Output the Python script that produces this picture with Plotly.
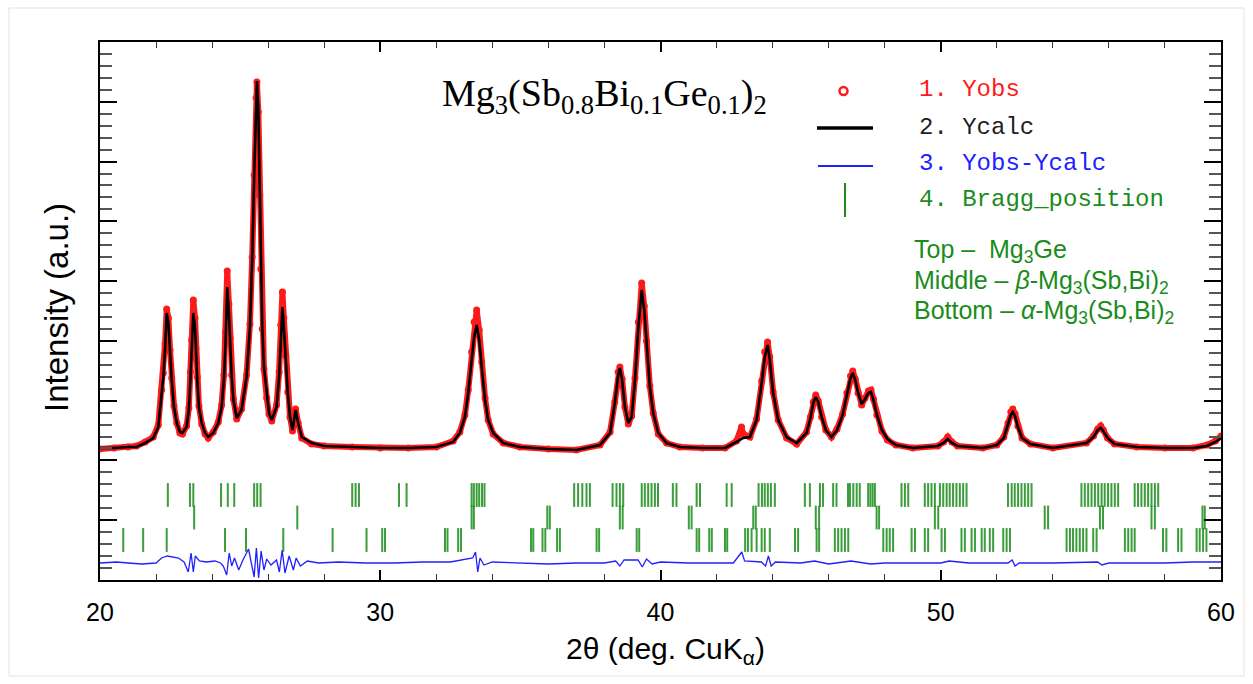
import plotly.graph_objects as go

# ---------------- data ----------------
# 2theta grid of the observed / calculated profile
two_theta = [20.0, 20.5, 21.0, 21.3, 21.61, 21.90, 22.08, 22.20, 22.26, 22.32,
             22.38, 22.44, 22.50, 22.56, 22.64, 22.74, 22.85, 22.94, 23.09, 23.17,
             23.23, 23.27, 23.33, 23.39, 23.42, 23.47, 23.53, 23.63, 23.75, 23.86,
             24.04, 24.22, 24.34, 24.42, 24.48, 24.54, 24.60, 24.64, 24.70, 24.76,
             24.88, 25.05, 25.23, 25.35, 25.43, 25.50, 25.57, 25.60, 25.65, 25.70,
             25.74, 25.79, 25.85, 25.95, 26.03, 26.13, 26.30, 26.39, 26.45, 26.51,
             26.56, 26.63, 26.70, 26.78, 26.87, 26.98, 27.07, 27.20, 27.55, 28.0,
             29.0, 30.0, 31.0, 32.0, 32.60, 32.84, 33.02, 33.14, 33.26, 33.35,
             33.44, 33.53, 33.62, 33.74, 33.85, 34.03, 34.39, 34.98, 36.0, 37.0,
             37.84, 38.20, 38.37, 38.49, 38.55, 38.63, 38.73, 38.85, 38.97, 39.09,
             39.21, 39.33, 39.42, 39.50, 39.62, 39.74, 39.92, 40.22, 40.69, 41.5,
             42.3, 42.71, 42.89, 42.95, 43.19, 43.43, 43.61, 43.72, 43.82, 43.90,
             44.02, 44.20, 44.50, 44.86, 45.21, 45.35, 45.45, 45.54, 45.63, 45.75,
             45.90, 46.10, 46.30, 46.50, 46.65, 46.78, 46.86, 46.95, 47.05, 47.18,
             47.30, 47.42, 47.51, 47.60, 47.72, 47.90, 48.10, 48.40, 49.0, 49.9,
             50.10, 50.25, 50.40, 50.60, 51.5, 52.00, 52.25, 52.40, 52.50, 52.57,
             52.65, 52.75, 52.90, 53.20, 54.0, 55.20, 55.45, 55.60, 55.71, 55.80,
             55.95, 56.20, 57.0, 58.0, 59.0, 59.5, 59.8, 60.0]

y_calc = [132, 132, 133, 133, 137, 142, 153, 187, 203, 230,
          267, 257, 227, 200, 173, 157, 148, 147, 153, 170,
          203, 230, 267, 253, 227, 200, 173, 157, 147, 143,
          147, 157, 173, 200, 237, 293, 267, 237, 203, 180,
          162, 170, 203, 253, 320, 403, 480, 499, 470, 387,
          313, 253, 213, 183, 167, 160, 173, 203, 243, 273,
          253, 220, 187, 163, 150, 170, 157, 143, 137, 134,
          133, 132, 132, 133, 138, 147, 163, 187, 220, 243,
          255, 240, 213, 180, 160, 147, 137, 133, 131, 130,
          135, 147, 177, 205, 212, 200, 173, 157, 163, 200,
          253, 290, 270, 237, 193, 167, 147, 137, 133, 132,
          132, 138, 141, 142, 143, 160, 197, 223, 235, 220,
          187, 160, 143, 137, 147, 162, 177, 183, 178, 163,
          150, 143, 150, 165, 185, 202, 207, 200, 187, 176,
          181, 187, 188, 180, 165, 150, 141, 135, 132, 134,
          137, 141, 137, 134, 132, 135, 142, 155, 165, 168,
          164, 153, 142, 136, 132, 137, 143, 150, 152, 149,
          142, 136, 133, 132, 132, 134, 138, 142]

y_obs = [131, 132, 133, 134, 138, 143, 155, 190, 207, 236,
         271, 262, 230, 202, 174, 157, 147, 146, 154, 172,
         208, 240, 280, 262, 232, 203, 174, 156, 146, 142,
         148, 158, 175, 205, 248, 309, 276, 242, 205, 181,
         161, 171, 205, 256, 323, 405, 482, 498, 468, 385,
         311, 251, 211, 182, 166, 159, 175, 208, 255, 288,
         262, 224, 188, 163, 149, 171, 157, 142, 136, 134,
         133, 132, 132, 133, 139, 148, 165, 190, 228, 258,
         270, 250, 218, 182, 160, 146, 137, 133, 131, 130,
         135, 148, 178, 208, 213, 201, 173, 156, 164, 202,
         258, 297, 274, 239, 194, 167, 146, 137, 133, 132,
         132, 139, 153, 146, 143, 161, 199, 228, 238, 223,
         188, 160, 142, 136, 148, 163, 178, 185, 179, 163,
         150, 143, 151, 166, 187, 204, 209, 201, 187, 175,
         182, 189, 190, 181, 165, 149, 140, 135, 132, 134,
         138, 143, 138, 134, 132, 135, 143, 157, 168, 171,
         166, 154, 142, 136, 132, 137, 144, 151, 154, 150,
         142, 136, 133, 132, 132, 135, 139, 144]

# difference curve (Yobs - Ycalc, plotted with an offset)
diff_theta = [20.0, 20.6, 21.0, 21.5, 22.0, 22.2, 22.4, 22.6, 22.8, 23.0, 23.15, 23.25, 23.33,
              23.4, 23.55, 23.8, 24.1, 24.3, 24.4, 24.52, 24.61, 24.7, 24.8, 24.95, 25.1, 25.3,
              25.4, 25.5, 25.58, 25.66, 25.75, 25.85, 25.95, 26.1, 26.3, 26.4, 26.5, 26.6,
              26.75, 26.9, 27.0, 27.15, 27.4, 27.8, 28.5, 29.5, 30.5, 31.5, 32.5, 33.3, 33.4,
              33.48, 33.56, 33.7, 34.0, 35.0, 36.0, 37.0, 38.0, 38.4, 38.55, 38.7, 39.2, 39.35,
              39.5, 39.7, 40.0, 41.0, 42.0, 42.6, 42.9, 43.0, 43.6, 43.75, 43.85, 43.95, 44.1,
              45.0, 45.5, 46.0, 46.8, 47.5, 48.0, 50.0, 50.3, 51.0, 52.4, 52.55, 52.65, 52.8,
              54.0, 55.6, 55.75, 56.0, 58.0, 59.0, 60.0]
diff_vals = [17, 18, 17, 16, 17, 22, 24, 23, 22, 18, 8, 27, 8,
             24, 19, 18, 19, 17, 14, 5, 27, 14, 22, 10, 20, 31,
             18, 3, 32, 2, 29, 10, 21, 15, 20, 8, 30, 7,
             24, 10, 22, 14, 19, 17, 18, 17, 17, 18, 18, 22, 28,
             8, 22, 15, 18, 17, 16, 17, 17, 19, 14, 20, 20, 13,
             21, 16, 18, 17, 17, 17, 28, 19, 18, 14, 24, 14, 18,
             17, 19, 16, 19, 16, 17, 17, 19, 17, 17, 20, 14, 17,
             17, 18, 15, 17, 17, 18, 18]

# Bragg positions (2theta)
bragg_top = [22.42, 23.21, 23.33, 24.32, 24.56, 24.79, 25.50, 25.61, 25.73, 29.00, 29.12, 29.24,
             30.67, 30.94, 33.26, 33.34, 33.44, 33.53, 33.63, 33.72, 36.92, 37.06, 37.21, 37.36,
             37.48, 38.29, 38.43, 38.55, 38.67, 39.33, 39.44, 39.56, 39.68, 39.80, 39.91, 40.44,
             40.57, 41.29, 41.41, 42.36, 42.54, 43.50, 43.62, 43.72, 43.83, 43.94, 44.08, 45.15,
             45.33, 45.69, 45.80, 46.16, 46.28, 46.69, 46.76, 46.88, 47.00, 47.11, 47.41, 47.49,
             47.57, 47.65, 48.60, 48.72, 48.84, 49.43, 49.55, 49.67, 49.79, 49.97, 50.09, 50.21,
             50.32, 50.44, 50.56, 50.68, 50.80, 50.92, 52.40, 52.53, 52.64, 52.76, 52.88, 53.00,
             53.12, 53.24, 55.02, 55.14, 55.26, 55.38, 55.50, 55.62, 55.74, 55.85, 55.97, 56.09,
             56.21, 56.33, 56.92, 57.04, 57.16, 57.28, 57.40, 57.52, 57.64, 57.76]
bragg_mid = [23.36, 27.04, 33.26, 33.34, 35.96, 36.05, 38.55, 38.65, 41.01, 41.11, 43.31, 43.40,
             45.54, 45.66, 47.71, 47.80, 49.79, 49.91, 53.71, 53.83, 55.68, 55.79, 57.52, 57.64,
             59.34, 59.42]
bragg_bot = [20.83, 21.54, 22.38, 24.46, 25.21, 26.54, 28.30, 29.51, 30.07, 30.17, 32.31, 32.40,
             32.78, 32.88, 35.38, 35.46, 35.79, 35.89, 36.31, 36.41, 37.72, 37.81, 39.15, 39.24,
             41.29, 41.38, 41.74, 41.83, 42.30, 42.38, 43.02, 43.12, 43.25, 43.43, 43.61, 43.72,
             43.90, 44.80, 44.91, 45.57, 45.66, 46.22, 46.34, 46.46, 46.58, 46.70, 47.95, 48.07,
             48.18, 48.30, 48.96, 49.08, 49.43, 49.55, 50.03, 50.15, 50.74, 50.86, 51.10, 51.22,
             51.46, 51.57, 51.75, 51.87, 52.23, 52.35, 52.47, 54.49, 54.61, 54.72, 54.84, 54.96,
             55.08, 55.20, 55.44, 55.56, 56.57, 56.69, 56.81, 56.92, 57.93, 58.05, 58.47, 58.59,
             59.13, 59.24, 59.36, 59.48]

x_tick_vals = [20, 30, 40, 50, 60]
x_tick_text = ["20", "30", "40", "50", "60"]

# ---------------- layout constants ----------------
W, H = 1253, 684
L, R, T, B = 100, 1221, 42, 580
Y_MAX = 538.0
ROW_TOP, ROW_MID, ROW_BOT = 85, 62.5, 40

RED = "#ff1a1a"
GREEN = "#1a8c1a"
BLUE = "#2020ff"


def PX(x):
    return (x - L) / (R - L)


def PY(y):
    return (B - y) / (B - T)


fig = go.Figure()

# observed (thick red band of dots)
fig.add_trace(go.Scatter(x=two_theta, y=y_obs, mode="lines+markers", name="Yobs",
                         line=dict(color=RED, width=6),
                         marker=dict(color=RED, size=7, symbol="circle"),
                         showlegend=False))
# calculated
fig.add_trace(go.Scatter(x=two_theta, y=y_calc, mode="lines", name="Ycalc",
                         line=dict(color="black", width=2.6), showlegend=False))
# difference
fig.add_trace(go.Scatter(x=diff_theta, y=diff_vals, mode="lines", name="Yobs-Ycalc",
                         line=dict(color=BLUE, width=1.3), showlegend=False))
# Bragg positions
for vals, lvl in [(bragg_top, ROW_TOP), (bragg_mid, ROW_MID), (bragg_bot, ROW_BOT)]:
    fig.add_trace(go.Scatter(x=vals, y=[lvl] * len(vals), mode="markers", name="Bragg_position",
                             marker=dict(symbol="line-ns-open", size=17, color=GREEN,
                                         line=dict(color=GREEN, width=2)),
                             opacity=0.85, showlegend=False))

annotations = []
# formula
annotations.append(dict(x=PX(440), y=PY(96), xref="paper", yref="paper", xanchor="left",
                        yanchor="middle", showarrow=False,
                        text="Mg<sub>3</sub>(Sb<sub>0.8</sub>Bi<sub>0.1</sub>Ge<sub>0.1</sub>)<sub>2</sub>",
                        font=dict(family="Liberation Serif, Times New Roman, serif", size=38,
                                  color="black")))
# legend texts
leg = [("1. Yobs", RED, 90), ("2. Ycalc", "#222222", 127), ("3. Yobs-Ycalc", BLUE, 164),
       ("4. Bragg_position", GREEN, 200)]
for txt, col, yy in leg:
    annotations.append(dict(x=PX(917), y=PY(yy), xref="paper", yref="paper", xanchor="left",
                            yanchor="middle", showarrow=False, text=txt,
                            font=dict(family="Liberation Mono, Courier New, monospace", size=24,
                                      color=col)))
# phase labels
phases = [("Top –  Mg<sub>3</sub>Ge", 251),
          ("Middle – <i>β</i>-Mg<sub>3</sub>(Sb,Bi)<sub>2</sub>", 282),
          ("Bottom – <i>α</i>-Mg<sub>3</sub>(Sb,Bi)<sub>2</sub>", 312)]
for txt, yy in phases:
    annotations.append(dict(x=PX(912), y=PY(yy), xref="paper", yref="paper", xanchor="left",
                            yanchor="middle", showarrow=False, text=txt,
                            font=dict(family="Liberation Sans, Arial, sans-serif", size=25,
                                      color=GREEN)))
# axis titles
annotations.append(dict(x=PX(56), y=PY(308), xref="paper", yref="paper", xanchor="center",
                        yanchor="middle", showarrow=False, text="Intensity (a.u.)", textangle=-90,
                        font=dict(family="Liberation Sans, Arial, sans-serif", size=33,
                                  color="black")))
annotations.append(dict(x=PX(665), y=PY(650), xref="paper", yref="paper", xanchor="center",
                        yanchor="middle", showarrow=False, text="2θ (deg. CuK<sub>α</sub>)",
                        font=dict(family="Liberation Sans, Arial, sans-serif", size=30,
                                  color="black")))

shapes = [
    # faint outer frame
    dict(type="rect", xref="paper", yref="paper", x0=PX(9), x1=PX(1244), y0=PY(676), y1=PY(8),
         line=dict(color="#e3e3e3", width=1)),
    # legend symbols
    dict(type="line", xref="paper", yref="paper", x0=PX(817), x1=PX(873), y0=PY(128), y1=PY(128),
         line=dict(color="black", width=3.5)),
    dict(type="line", xref="paper", yref="paper", x0=PX(818), x1=PX(873), y0=PY(166), y1=PY(166),
         line=dict(color=BLUE, width=2)),
    dict(type="line", xref="paper", yref="paper", x0=PX(845), x1=PX(845), y0=PY(217), y1=PY(183),
         line=dict(color=GREEN, width=2)),
    dict(type="circle", xref="paper", yref="paper", x0=PX(839.5), x1=PX(847.5), y0=PY(95),
         y1=PY(87), line=dict(color=RED, width=2.5)),
]

fig.update_layout(
    width=W, height=H,
    margin=dict(l=L, r=W - R, t=T, b=H - B, pad=0),
    paper_bgcolor="white", plot_bgcolor="white",
    showlegend=False,
    annotations=annotations, shapes=shapes,
    xaxis=dict(range=[20, 60], tickmode="array", tickvals=x_tick_vals, ticktext=x_tick_text,
               ticks="inside", ticklen=10, tickwidth=1.5, tickcolor="black",
               minor=dict(dtick=2, ticks="inside", ticklen=6, tickcolor="#333333", tickwidth=1.2),
               showline=True, linecolor="black", linewidth=2, mirror="ticks",
               showgrid=False, zeroline=False, ticklabelstandoff=9,
               tickfont=dict(family="Liberation Sans, Arial, sans-serif", size=25, color="black")),
    yaxis=dict(range=[0, Y_MAX], tick0=0, dtick=Y_MAX / 9, showticklabels=False,
               ticks="inside", ticklen=17, tickwidth=2, tickcolor="black",
               minor=dict(dtick=Y_MAX / 45, ticks="inside", ticklen=12, tickcolor="#555555",
                          tickwidth=1.5),
               showline=True, linecolor="black", linewidth=2, mirror="ticks",
               showgrid=False, zeroline=False),
)

fig.write_html("out.html")
